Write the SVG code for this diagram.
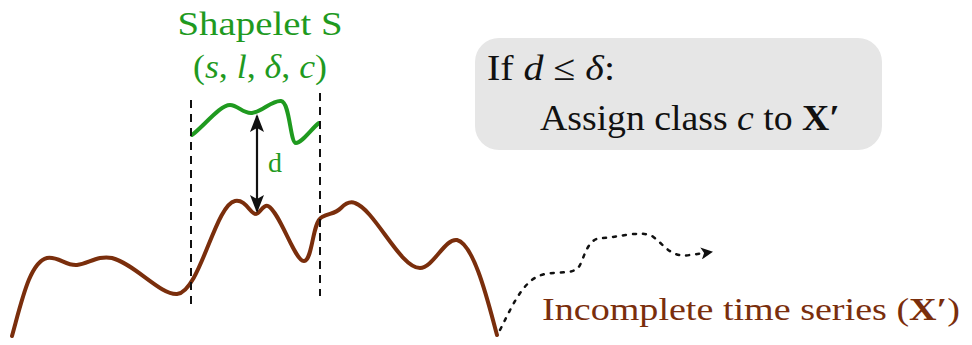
<svg xmlns="http://www.w3.org/2000/svg" width="972" height="345" viewBox="0 0 972 345">
<defs>
<style>
.t{font-family:"Liberation Serif","DejaVu Serif",serif;}
.g{fill:#1f9a1f;}
.b{fill:#7a2e0c;}
.k{fill:#111;}
.i{font-style:italic;}
.bd{font-weight:bold;font-style:normal;}
.dash{stroke:#111;stroke-width:2;stroke-dasharray:8 6;fill:none;}
</style>
<marker id="ah" viewBox="0 0 12 12" refX="11" refY="6" markerWidth="12" markerHeight="12" markerUnits="userSpaceOnUse" orient="auto-start-reverse">
<path d="M0,0 L12,6 L0,12 L3,6 Z" fill="#111"/>
</marker>
<marker id="ah2" viewBox="0 0 18 14" refX="16" refY="7" markerWidth="18" markerHeight="14" markerUnits="userSpaceOnUse" orient="auto-start-reverse">
<path d="M0,0 L18,7 L0,14 L4,7 Z" fill="#111"/>
</marker>
</defs>
<rect width="972" height="345" fill="#fff"/>
<g id="series">
<path d="M12,336 C22,300 30,262 47,258 C58,256 66,266 77,265 C88,264 98,255 112,258 C135,264 160,295 177,294 C200,292 215,205 235,201 C246,199 250,214 256,214 C260,214 263,204 268,206 C280,212 295,262 304,261 C313,260 312,222 322,217 C330,213 335,214 341,208 C346,203 350,201 355,203 C375,210 400,268 420,268 C433,268 445,238 457,240 C475,244 490,310 497,335" fill="none" stroke="#7a2e0c" stroke-width="4" stroke-linecap="round"/>
<text class="t b" x="542" y="320" font-size="32" textLength="418" lengthAdjust="spacingAndGlyphs">Incomplete time series (<tspan class="bd">X′</tspan>)</text>
</g>
<g id="shapelet">
<path d="M192,135 C205,125 220,105 230,105 C238,105 243,114 252,113 C262,112 272,100 281,101 C290,102 290,143 296,143 C302,143 312,128 319,123" fill="none" stroke="#1f9a1f" stroke-width="4" stroke-linecap="round"/>
<text class="t g" x="260" y="35" font-size="33" text-anchor="middle" textLength="165" lengthAdjust="spacingAndGlyphs">Shapelet S</text>
<text class="t g" x="260" y="78" font-size="33" text-anchor="middle" textLength="134" lengthAdjust="spacingAndGlyphs">(<tspan class="i">s</tspan>, <tspan class="i">l</tspan>, <tspan class="i">δ</tspan>, <tspan class="i">c</tspan>)</text>
</g>
<g id="rule">
<rect x="475" y="38" width="407" height="112" rx="24" fill="#e6e6e6"/>
<text class="t k" x="487" y="80" font-size="36" textLength="128" lengthAdjust="spacingAndGlyphs">If <tspan class="i">d</tspan> ≤ <tspan class="i">δ</tspan>:</text>
<text class="t k" x="540" y="130" font-size="36" textLength="300" lengthAdjust="spacingAndGlyphs">Assign class <tspan class="i">c</tspan> to <tspan class="bd">X′</tspan></text>
</g>
<g id="connectors">
<line class="dash" x1="191" y1="100" x2="191" y2="308"/>
<line class="dash" x1="320" y1="93" x2="320" y2="296"/>
<line x1="257" y1="116" x2="257" y2="211" stroke="#111" stroke-width="2.2" marker-start="url(#ah2)" marker-end="url(#ah2)"/>
<text class="t g" x="275" y="172" font-size="28" text-anchor="middle">d</text>
<path d="M500,330 C515,300 525,278 545,274 C560,271 575,275 580,265 C585,255 588,238 602,238 C615,238 640,230 652,236 C665,245 670,258 690,255 L712,252" fill="none" stroke="#111" stroke-width="2.5" stroke-linecap="round" stroke-dasharray="3 7" marker-end="url(#ah)"/>
</g>
</svg>
